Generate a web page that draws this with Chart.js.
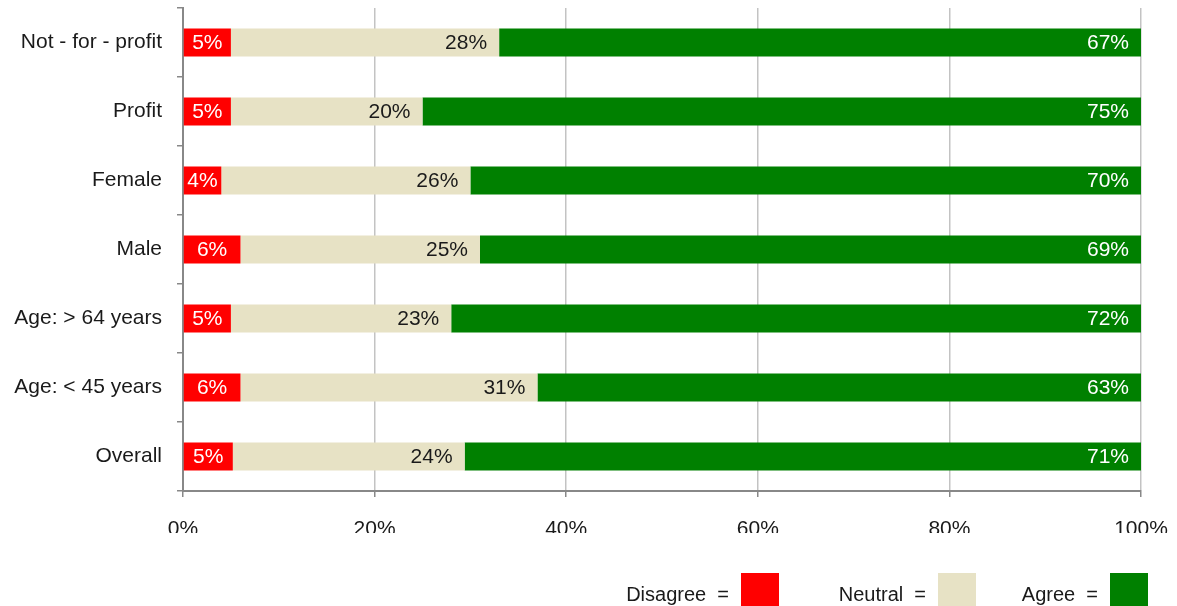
<!DOCTYPE html>
<html>
<head>
<meta charset="utf-8">
<script src="https://cdn.jsdelivr.net/npm/chart.js@4.4.1/dist/chart.umd.min.js"></script>
<style>
  html, body { margin: 0; padding: 0; background: #ffffff; }
  #wrap { width: 1177px; height: 606px; position: relative; }
</style>
</head>
<body>
<div id="wrap"><canvas id="c" width="1177" height="606"></canvas></div>
<script>
const categories = ['Not - for - profit', 'Profit', 'Female', 'Male', 'Age: > 64 years', 'Age: < 45 years', 'Overall'];
const seriesNames = ['Disagree', 'Neutral', 'Agree'];
const disagree = [5, 5, 4, 6, 5, 6, 5.2];
const neutral  = [28, 20, 26, 25, 23, 31, 24.2];
const agree    = [67, 75, 70, 69, 72, 63, 70.6];
const xTicks   = [0, 20, 40, 60, 80, 100];

const colors = ['#ff0000', '#e7e2c5', '#008000'];
const labelColors = ['#ffffff', '#1a1a1a', '#ffffff'];
const FONT = '"Liberation Sans", Arial, sans-serif';

Chart.defaults.font.family = FONT;
Chart.defaults.font.size = 21;
Chart.defaults.color = '#1a1a1a';

const valueLabels = {
  id: 'valueLabels',
  afterDatasetsDraw(chart) {
    const ctx = chart.ctx;
    ctx.save();
    ctx.font = '21px ' + FONT;
    ctx.textBaseline = 'middle';
    chart.data.datasets.forEach((ds, di) => {
      const meta = chart.getDatasetMeta(di);
      meta.data.forEach((bar, i) => {
        const v = ds.data[i];
        const txt = Math.round(v) + '%';
        ctx.fillStyle = labelColors[di];
        if (di === 0) {
          ctx.textAlign = 'center';
          ctx.fillText(txt, (bar.x + bar.base) / 2, bar.y + 1);
        } else {
          ctx.textAlign = 'right';
          ctx.fillText(txt, bar.x - 12, bar.y + 1);
        }
      });
    });
    ctx.restore();
  }
};

// legend box right edges, relative to the plot's right edge
const legendBoxRight = [-362, -165, 7];

const boxLegend = {
  id: 'boxLegend',
  afterDraw(chart) {
    const ctx = chart.ctx;
    ctx.save();
    // the reference crops the bottom of the x tick labels
    ctx.fillStyle = '#ffffff';
    ctx.fillRect(0, 533, chart.width, 30);

    ctx.font = '20px ' + FONT;
    ctx.textBaseline = 'alphabetic';
    ctx.textAlign = 'right';
    const boxW = 38, boxH = 34, gapTB = 12;
    const boxTop = 573;
    const baseline = 601;
    chart.data.datasets.forEach((d, i) => {
      const right = chart.chartArea.right + legendBoxRight[i];
      ctx.fillStyle = d.backgroundColor;
      ctx.fillRect(right - boxW, boxTop, boxW, boxH);
      ctx.fillStyle = '#1a1a1a';
      ctx.fillText(d.label + '  =', right - boxW - gapTB, baseline);
    });
    ctx.restore();
  }
};

const seriesData = [disagree, neutral, agree];

new Chart(document.getElementById('c'), {
  type: 'bar',
  data: {
    labels: categories,
    datasets: seriesNames.map((n, i) => ({
      label: n,
      data: seriesData[i],
      backgroundColor: colors[i],
      borderWidth: 0,
      barPercentage: 1,
      categoryPercentage: 0.405
    }))
  },
  options: {
    indexAxis: 'y',
    responsive: false,
    animation: false,
    devicePixelRatio: 1,
    layout: { padding: { top: 8, right: 36, left: 0, bottom: 0 } },
    plugins: {
      legend: { display: false },
      tooltip: { enabled: false },
      title: { display: false }
    },
    scales: {
      x: {
        stacked: true,
        min: 0,
        max: 100,
        afterBuildTicks(scale) { scale.ticks = xTicks.map(v => ({ value: v })); },
        afterFit(scale) {
          scale.height = 115;
          scale.paddingLeft = 0; scale.paddingRight = 0;
          scale.paddingTop = 0; scale.paddingBottom = 0;
        },
        ticks: {
          callback: v => v + '%',
          padding: 20,
          color: '#1a1a1a',
          font: { size: 21 },
          maxRotation: 0
        },
        grid: {
          color: '#c3c3c3',
          lineWidth: 1.5,
          tickColor: '#888888',
          tickLength: 6,
          drawOnChartArea: true
        },
        border: { color: '#888888', width: 2 }
      },
      y: {
        stacked: true,
        afterFit(scale) {
          scale.width = 183;
          scale.paddingLeft = 0; scale.paddingRight = 0;
          scale.paddingTop = 0; scale.paddingBottom = 0;
        },
        ticks: {
          padding: 15,
          color: '#1a1a1a',
          font: { size: 21 }
        },
        grid: {
          offset: true,
          drawOnChartArea: false,
          tickColor: '#888888',
          tickLength: 6,
          lineWidth: 1.5
        },
        border: { color: '#888888', width: 2 }
      }
    }
  },
  plugins: [valueLabels, boxLegend]
});
</script>
</body>
</html>
